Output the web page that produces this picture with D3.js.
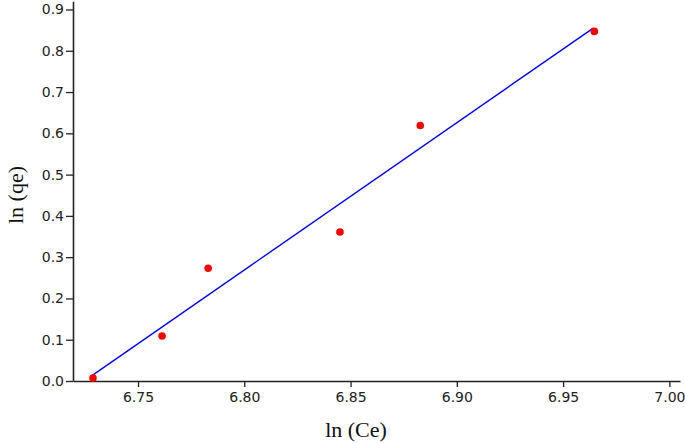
<!DOCTYPE html>
<html><head><meta charset="utf-8">
<script src="https://cdn.jsdelivr.net/npm/d3@7"></script>
<style>body{margin:0;background:#fff}svg{display:block}</style>
</head><body>
<svg id="c" width="685" height="443"></svg>
<script>
const xValues = [6.7288, 6.7613, 6.7830, 6.8450, 6.8828, 6.9647];
const yValues = [0.007, 0.109, 0.273, 0.361, 0.619, 0.847];
const fitX = [6.7285, 6.9642];
const fitY = [0.0138, 0.855];
const xTicks = [6.75, 6.80, 6.85, 6.90, 6.95, 7.00];
const yTicks = [0.0, 0.1, 0.2, 0.3, 0.4, 0.5, 0.6, 0.7, 0.8, 0.9];
const xTitle = "ln (Ce)";
const yTitle = "ln (qe)";

const svg = d3.select("#c");
const x = d3.scaleLinear().domain([6.7194, 7.005]).range([73, 680]);
const y = d3.scaleLinear().domain([0, 0.9]).range([381, 9.5]);
const yTop = 0.92;

const tickFont = "'DejaVu Sans', Verdana, sans-serif";

const gx = svg.append("g").attr("transform", `translate(0,${y(0)})`)
  .call(d3.axisBottom(x).tickValues(xTicks).tickFormat(d3.format(".2f")).tickSize(6).tickPadding(5).tickSizeOuter(0));
const gy = svg.append("g").attr("transform", `translate(${x.range()[0]},0)`)
  .call(d3.axisLeft(y.copy().domain([0, yTop]).range([381, 381 - (381-9.5)*yTop/0.9])).tickValues(yTicks).tickFormat(d3.format(".1f")).tickSize(7).tickPadding(2).tickSizeOuter(0));

[gx, gy].forEach(g => {
  g.select(".domain").attr("stroke", "#222").attr("stroke-width", 1.6);
  g.selectAll(".tick line").attr("stroke", "#222").attr("stroke-width", 1.3);
  g.selectAll(".tick text").attr("fill", "#222").style("font-family", tickFont).style("font-size", "14px");
});

svg.append("line")
  .attr("x1", x(fitX[0])).attr("y1", y(fitY[0]))
  .attr("x2", x(fitX[1])).attr("y2", y(fitY[1]))
  .attr("stroke", "#0000ff").attr("stroke-width", 1.4);

svg.append("g").selectAll("circle").data(xValues.map((v, i) => [v, yValues[i]])).join("circle")
  .attr("cx", d => x(d[0])).attr("cy", d => y(d[1])).attr("r", 3.8).attr("fill", "#ff0000");

svg.append("text").attr("x", 356).attr("y", 437).attr("text-anchor", "middle")
  .style("font-family", "'Liberation Serif', 'Times New Roman', serif").style("font-size", "22px").attr("fill", "#111").text(xTitle);
svg.append("text").attr("transform", "translate(23,195) rotate(-90)").attr("text-anchor", "middle")
  .style("font-family", "'Liberation Serif', 'Times New Roman', serif").style("font-size", "22px").attr("fill", "#111").text(yTitle);
</script>
</body></html>
